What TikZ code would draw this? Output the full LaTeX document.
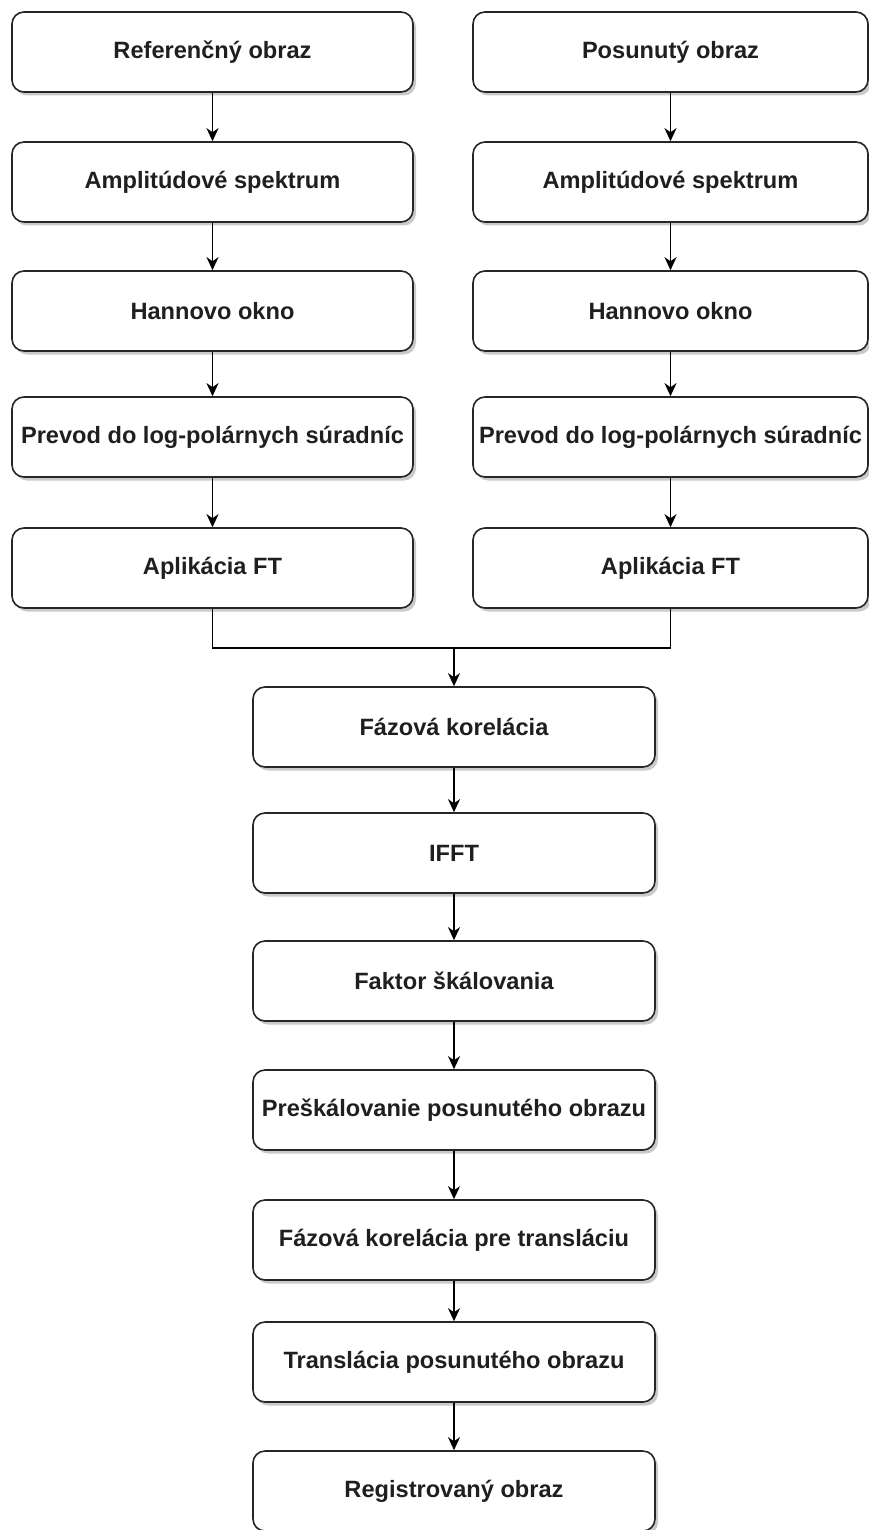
\documentclass[tikz,border=0pt]{standalone}
\usepackage{fontspec}
\setmainfont{Liberation Sans}
\usetikzlibrary{arrows.meta,shadows}
\begin{document}
\begin{tikzpicture}[x=1pt,y=-1pt,
  box/.style={draw=black!85, line width=1.6pt, fill=white, rounded corners=12pt,
    minimum height=80pt, inner sep=0pt,
    font=\fontsize{23.6}{28}\selectfont\bfseries, text=black!88,
    drop shadow={shadow xshift=3pt, shadow yshift=-3.5pt, fill=black!35, opacity=0.6}},
  lbox/.style={box, minimum width=401pt},
  rbox/.style={box, minimum width=395pt},
  cbox/.style={box, minimum width=402pt},
  conn/.style={draw=black, line width=1.6pt},
  arr/.style={conn, -{Stealth[length=13pt, width=12pt, inset=4pt]}}
]
\useasboundingbox (0,0) rectangle (869,1530);
% left column
\node[lbox] (l1) at (212.5,52) {Referenčný obraz};
\node[lbox] (l2) at (212.5,182) {Amplitúdové spektrum};
\node[lbox] (l3) at (212.5,311) {Hannovo okno};
\node[lbox] (l4) at (212.5,437) {Prevod do log-polárnych súradníc};
\node[lbox] (l5) at (212.5,568) {Aplikácia FT};
% right column
\node[rbox] (r1) at (670.5,52) {Posunutý obraz};
\node[rbox] (r2) at (670.5,182) {Amplitúdové spektrum};
\node[rbox] (r3) at (670.5,311) {Hannovo okno};
\node[rbox] (r4) at (670.5,437) {Prevod do log-polárnych súradníc};
\node[rbox] (r5) at (670.5,568) {Aplikácia FT};
% center column
\node[cbox] (c1) at (454,727) {Fázová korelácia};
\node[cbox] (c2) at (454,853) {IFFT};
\node[cbox] (c3) at (454,981) {Faktor škálovania};
\node[cbox] (c4) at (454,1110) {Preškálovanie posunutého obrazu};
\node[cbox] (c5) at (454,1240) {Fázová korelácia pre transláciu};
\node[cbox] (c6) at (454,1362) {Translácia posunutého obrazu};
\node[cbox] (c7) at (454,1491) {Registrovaný obraz};
% arrows
\foreach \a/\b in {l1/l2,l2/l3,l3/l4,l4/l5,r1/r2,r2/r3,r3/r4,r4/r5,c1/c2,c2/c3,c3/c4,c4/c5,c5/c6,c6/c7}
  \draw[arr] (\a.south) -- (\b.north);
\coordinate (m) at (454,648);
\draw[conn] (l5.south) |- (m) -| (r5.south);
\draw[arr] (m) -- (c1.north);
\end{tikzpicture}
\end{document}
